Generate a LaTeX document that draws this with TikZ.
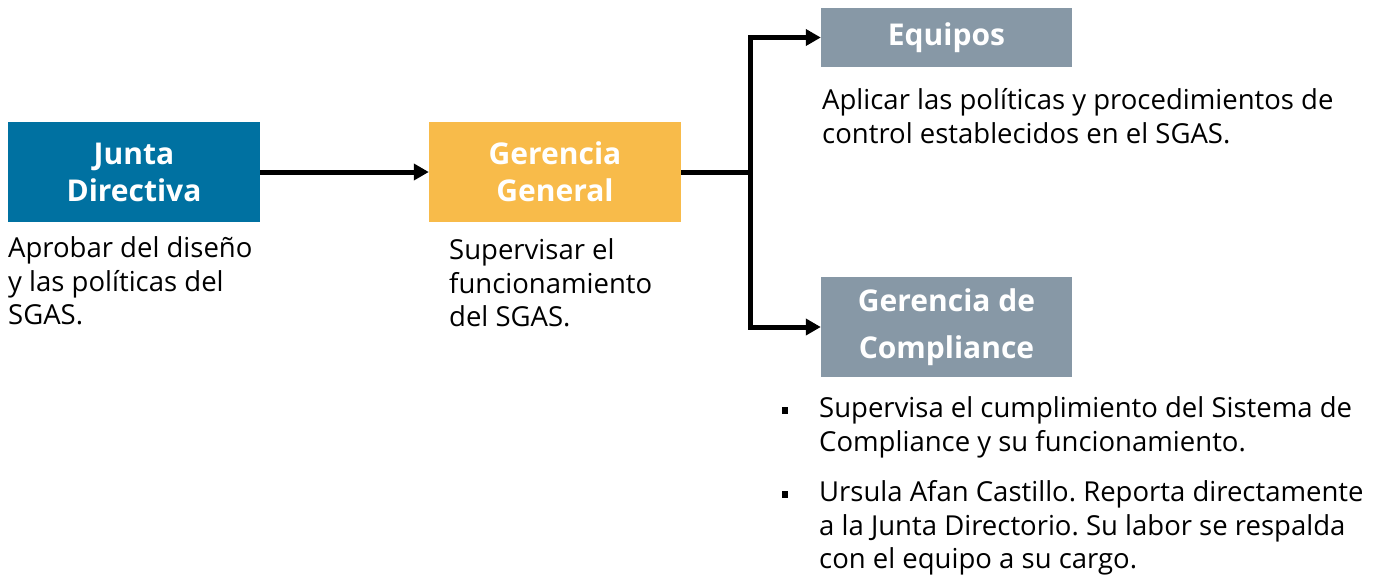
\documentclass[tikz,border=0pt]{standalone}
\usepackage{fontspec}
\setmainfont{Open Sans}
\usetikzlibrary{arrows.meta}
\definecolor{jblue}{RGB}{0,113,161}
\definecolor{gyellow}{RGB}{248,187,74}
\definecolor{ggray}{RGB}{135,152,166}
\frenchspacing
\begin{document}
\begin{tikzpicture}[x=1pt,y=-1pt,
  box/.style={rectangle, inner sep=0pt, minimum width=252pt, align=center, text=white, font=\fontsize{30}{37}\selectfont\bfseries},
  body/.style={inner sep=0pt, anchor=north west, align=left, font=\fontsize{27.5}{33.5}\selectfont},
  conn/.style={line width=5pt, -{Triangle[length=15pt,width=16pt]}},
  bul/.style={rectangle, fill=black, inner sep=0pt, minimum size=6.5pt},
]
\useasboundingbox (0,0) rectangle (1381,574);
\node[box, fill=jblue, minimum height=100pt] (jd) at (134,172) {Junta\\Directiva};
\node[box, fill=gyellow, minimum height=100pt] (gg) at (555,172) {Gerencia\\General};
\node[box, fill=ggray, minimum height=59pt, minimum width=251pt] (eq) at (946.5,37.5) {Equipos};
\node[box, fill=ggray, minimum height=100pt, minimum width=251pt] (gc) at (946.5,327) {Gerencia de\\[10pt]Compliance};

\node[body] (tjd) at (8,236.5) {Aprobar del diseño\\y las políticas del\\SGAS.};
\node[body] (tgg) at (449,238.5) {Supervisar el\\funcionamiento\\del SGAS.};
\node[body] (teq) at (822,88.5) {Aplicar las políticas y procedimientos de\\control establecidos en el SGAS.};
\node[body] (tb1) at (819,396.5) {Supervisa el cumplimiento del Sistema de\\Compliance y su funcionamiento.};
\node[body] (tb2) at (819,480.5) {Ursula Afan Castillo. Reporta directamente\\a la Junta Directorio. Su labor se respalda\\con el equipo a su cargo.};
\node[bul] (b1) at (785,410.5) {};
\node[bul] (b2) at (785,494.5) {};

\coordinate (split) at (750,172);
\draw[conn] (jd.east) -- (gg.west);
\draw[line width=5pt] (gg.east) -- (split);
\draw[conn] (split) |- (eq.west);
\draw[conn] (split) |- (gc.west);
\end{tikzpicture}
\end{document}
